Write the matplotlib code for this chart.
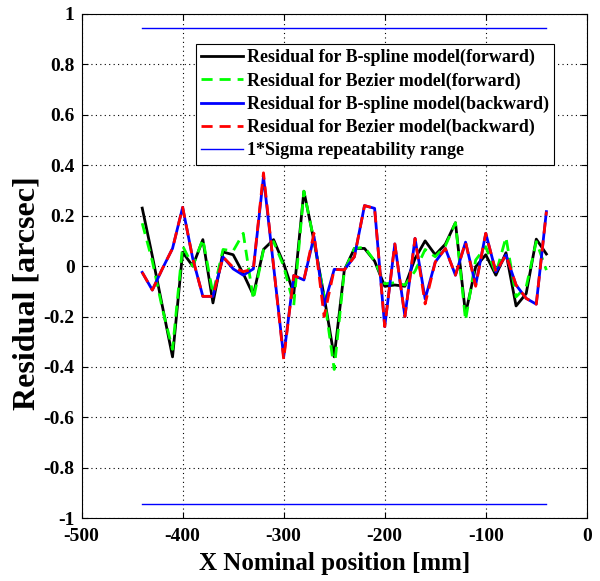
import matplotlib
matplotlib.use("Agg")
import matplotlib.pyplot as plt
import numpy as np

positions = list(range(-440, -30, 10))

bspline_forward = [0.23, 0.04, -0.16, -0.36, 0.055, 0.0, 0.105, -0.146, 0.056, 0.045,
                   -0.03, -0.115, 0.066, 0.105, 0.01, -0.11, 0.297, 0.10, -0.12, -0.36,
                   -0.016, 0.07, 0.07, 0.02, -0.08, -0.075, -0.08, 0.03, 0.10, 0.045,
                   0.087, 0.172, -0.19, -0.003, 0.045, -0.036, 0.053, -0.158, -0.109, 0.107,
                   0.048]
bezier_forward = [0.17, 0.02, -0.17, -0.33, 0.08, 0.0, 0.107, -0.11, 0.066, 0.06,
                  0.13, -0.132, 0.064, 0.097, 0.0, -0.155, 0.297, 0.10, -0.12, -0.41,
                  -0.02, 0.07, 0.075, 0.02, -0.07, -0.066, -0.075, -0.02, 0.066, 0.037,
                  0.08, 0.172, -0.215, 0.024, 0.077, -0.03, 0.114, -0.122, -0.082, 0.097,
                  -0.016]
bspline_backward = [-0.025, -0.095, -0.01, 0.07, 0.233, 0.03, -0.12, -0.12, 0.036, -0.011,
                    -0.036, -0.011, 0.355, 0.0, -0.36, -0.037, -0.055, 0.118, -0.155, -0.013,
                    -0.015, 0.037, 0.24, 0.229, -0.24, 0.088, -0.2, 0.11, -0.13, 0.016,
                    0.07, -0.036, 0.095, -0.075, 0.13, -0.023, 0.044, -0.075, -0.128, -0.151,
                    0.216]
bezier_backward = [-0.025, -0.095, -0.01, 0.07, 0.233, 0.03, -0.12, -0.12, 0.036, -0.005,
                   -0.022, -0.011, 0.37, 0.0, -0.37, -0.037, -0.055, 0.13, -0.2, -0.013,
                   -0.015, 0.037, 0.24, 0.229, -0.24, 0.088, -0.2, 0.11, -0.15, 0.016,
                   0.07, -0.036, 0.095, -0.08, 0.13, -0.023, 0.044, -0.075, -0.128, -0.151,
                   0.216]
sigma_range = 0.945
sigma_x = [-440, -40]

labels = ["Residual for B-spline model(forward)",
          "Residual for Bezier model(forward)",
          "Residual for B-spline model(backward)",
          "Residual for Bezier model(backward)",
          "1*Sigma repeatability range"]

plt.rcParams['font.family'] = ['Liberation Serif', 'DejaVu Serif']
plt.rcParams['font.weight'] = 'bold'
plt.rcParams['axes.unicode_minus'] = False

fig = plt.figure(figsize=(6.0, 5.81), dpi=100)
ax = fig.add_axes([0.136, 0.108, 0.842, 0.868])

l1, = ax.plot(positions, bspline_forward, color='black', lw=2.0, ls='-')
l2, = ax.plot(positions, bezier_forward, color=(0, 1, 0), lw=2.0, ls=(0, (4, 2.5)))
l3, = ax.plot(positions, bspline_backward, color=(0, 0, 1), lw=2.0, ls='-')
l4, = ax.plot(positions, bezier_backward, color=(1, 0, 0), lw=2.0, ls=(0, (4, 2.5)))
l5, = ax.plot(sigma_x, [sigma_range, sigma_range], color=(0, 0, 1), lw=1.0)
ax.plot(sigma_x, [-sigma_range, -sigma_range], color=(0, 0, 1), lw=1.0)

ax.set_xlim(-500, 0)
ax.set_ylim(-1, 1)
ax.set_xticks(np.arange(-500, 1, 100))
yt = np.round(np.arange(-1, 1.01, 0.2), 1)
ax.set_yticks(yt)
ax.set_yticklabels([("%g" % v) if v != 0 else "0" for v in yt])
ax.grid(True, color='black', ls=(0, (1, 3)), lw=0.8)
ax.tick_params(direction='in', labelsize=14, top=True, right=True, length=4)
ax.tick_params(axis='x', pad=7)
ax.tick_params(axis='y', pad=5)
for lab in ax.get_xticklabels() + ax.get_yticklabels():
    lab.set_fontweight('bold')
ax.set_xlabel("X Nominal position [mm]", fontsize=18, fontweight='bold', labelpad=5)
ax.set_ylabel("Residual [arcsec]", fontsize=23, fontweight='bold')
ax.yaxis.set_label_coords(-0.08, 0.446)

leg = ax.legend([l1, l2, l3, l4, l5], labels, loc='upper right',
                bbox_to_anchor=(0.936, 0.941), fontsize=13, fancybox=False,
                framealpha=1, edgecolor='black', handlelength=2.3,
                borderpad=0.3, labelspacing=0.33, handletextpad=0.25,
                borderaxespad=0)
leg.get_frame().set_linewidth(0.8)
for t in leg.get_texts():
    t.set_fontweight('bold')

fig.savefig("out.png", dpi=100)
